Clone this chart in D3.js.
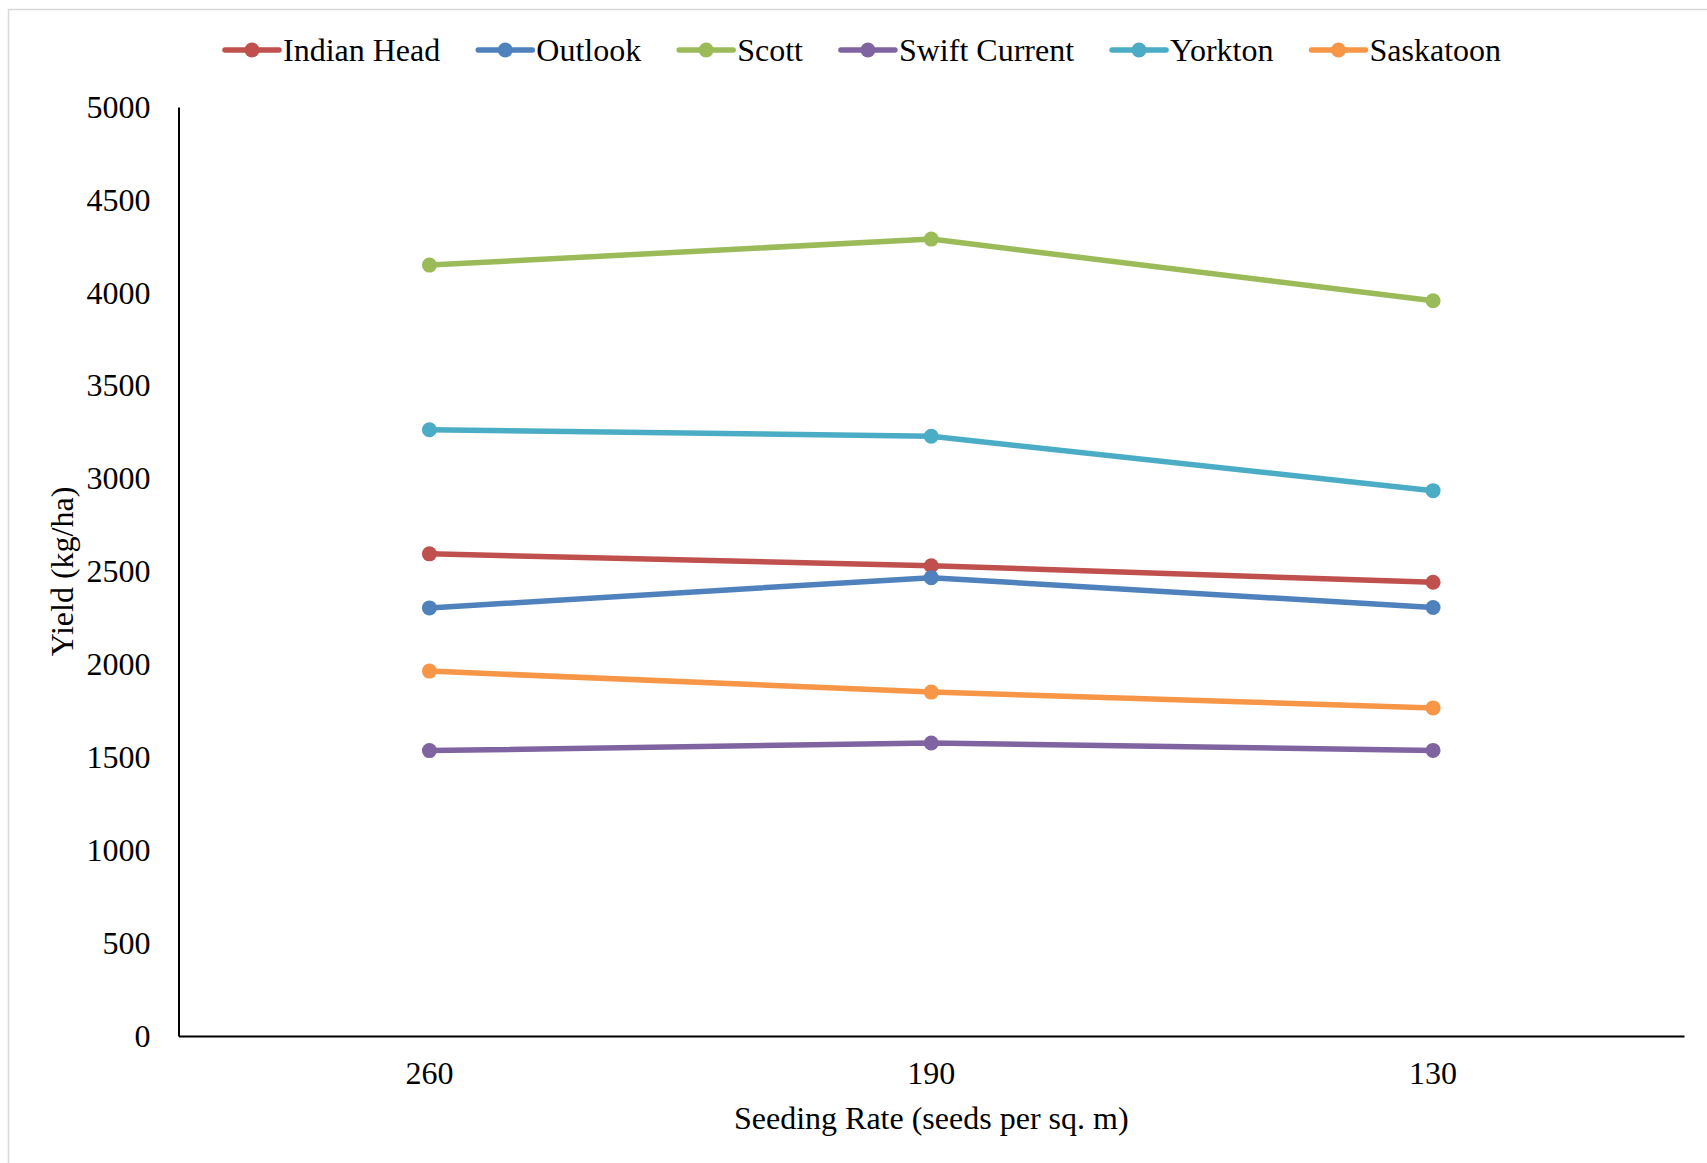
<!DOCTYPE html>
<html>
<head>
<meta charset="utf-8">
<script src="https://cdn.jsdelivr.net/npm/d3@7"></script>
<style>
  html, body { margin: 0; padding: 0; background: #fff; }
  svg { display: block; }
  text { font-family: "Liberation Serif", "Times New Roman", serif; fill: #000; }
</style>
</head>
<body>
<svg id="chart" width="1707" height="1163"></svg>
<script>
// Seeding rates (seeds per sq. m), in plotted order
const seedingRates = ["260", "190", "130"];

// Yield (kg/ha) per site at each seeding rate
const indianHead   = [2595, 2531, 2442];
const outlook      = [2304, 2467, 2306];
const scott        = [4149, 4289, 3957];
const swiftCurrent = [1536, 1577, 1537];
const yorkton      = [3263, 3228, 2935];
const saskatoon    = [1964, 1851, 1766];

const siteNames  = ["Indian Head", "Outlook", "Scott", "Swift Current", "Yorkton", "Saskatoon"];
const siteValues = [indianHead, outlook, scott, swiftCurrent, yorkton, saskatoon];
const siteColors = ["#C0504D", "#4F81BD", "#9BBB59", "#8064A2", "#4BACC6", "#F79646"];

const yTicks = [0, 500, 1000, 1500, 2000, 2500, 3000, 3500, 4000, 4500, 5000];

const series = siteNames.map((name, i) => ({ name, color: siteColors[i], values: siteValues[i] }));

const svg = d3.select("#chart");
const W = 1707, H = 1163;
const margin = { left: 178.5, right: 1684, top: 107, bottom: 1036 };
const fontSize = 32;

// Chart area outline
svg.append("rect")
  .attr("x", 8.5).attr("y", 9.5)
  .attr("width", W + 10).attr("height", H + 10)
  .attr("fill", "none").attr("stroke", "#d9d9d9").attr("stroke-width", 1.5);

const x = d3.scaleBand().domain(seedingRates).range([margin.left, margin.right]);
const y = d3.scaleLinear().domain([0, 5000]).range([margin.bottom, margin.top]);

// Y axis
const yAxis = svg.append("g")
  .attr("transform", `translate(${margin.left},0)`)
  .call(d3.axisLeft(y).tickValues(yTicks).tickSize(0).tickPadding(28).tickFormat(d3.format("d")));
yAxis.select(".domain").attr("stroke", "#000").attr("stroke-width", 2);
yAxis.selectAll("text")
  .attr("font-size", fontSize)
  .attr("font-family", "Liberation Serif, serif")
  .attr("fill", "#000");

// X axis
const xAxis = svg.append("g")
  .attr("transform", `translate(0,${margin.bottom})`)
  .call(d3.axisBottom(x).tickSize(0).tickPadding(25));
xAxis.select(".domain").attr("stroke", "#000").attr("stroke-width", 2);
xAxis.selectAll("text")
  .attr("font-size", fontSize)
  .attr("font-family", "Liberation Serif, serif")
  .attr("fill", "#000");

// Axis titles
svg.append("text")
  .attr("transform", `translate(62,${(margin.top + margin.bottom) / 2}) rotate(-90)`)
  .attr("text-anchor", "middle")
  .attr("dominant-baseline", "central")
  .attr("font-size", fontSize)
  .text("Yield (kg/ha)");

svg.append("text")
  .attr("x", (margin.left + margin.right) / 2)
  .attr("y", 1118)
  .attr("text-anchor", "middle")
  .attr("dominant-baseline", "central")
  .attr("font-size", fontSize)
  .text("Seeding Rate (seeds per sq. m)");

// Lines and markers
const cx = r => x(r) + x.bandwidth() / 2;
const line = d3.line()
  .x((d, i) => cx(seedingRates[i]))
  .y(d => y(d));

const groups = svg.append("g").selectAll("g.series")
  .data(series).join("g").attr("class", "series");

groups.append("path")
  .attr("d", d => line(d.values))
  .attr("fill", "none")
  .attr("stroke", d => d.color)
  .attr("stroke-width", 5.5)
  .attr("stroke-linejoin", "round");

groups.each(function (s) {
  d3.select(this).selectAll("circle")
    .data(s.values).join("circle")
    .attr("cx", (d, i) => cx(seedingRates[i]))
    .attr("cy", d => y(d))
    .attr("r", 7.5)
    .attr("fill", s.color);
});

// Legend
const legend = svg.append("g").attr("transform", "translate(225,50)");
let offset = 0;
series.forEach(s => {
  const item = legend.append("g").attr("transform", `translate(${offset},0)`);
  item.append("line")
    .attr("x1", 0).attr("x2", 54).attr("y1", 0).attr("y2", 0)
    .attr("stroke", s.color).attr("stroke-width", 5.5).attr("stroke-linecap", "round");
  item.append("circle").attr("cx", 27).attr("cy", 0).attr("r", 7.5).attr("fill", s.color);
  const t = item.append("text")
    .attr("x", 58).attr("y", 0)
    .attr("dominant-baseline", "central")
    .attr("font-size", fontSize)
    .text(s.name);
  offset += 58 + t.node().getComputedTextLength() + 38;
});
</script>
</body>
</html>
